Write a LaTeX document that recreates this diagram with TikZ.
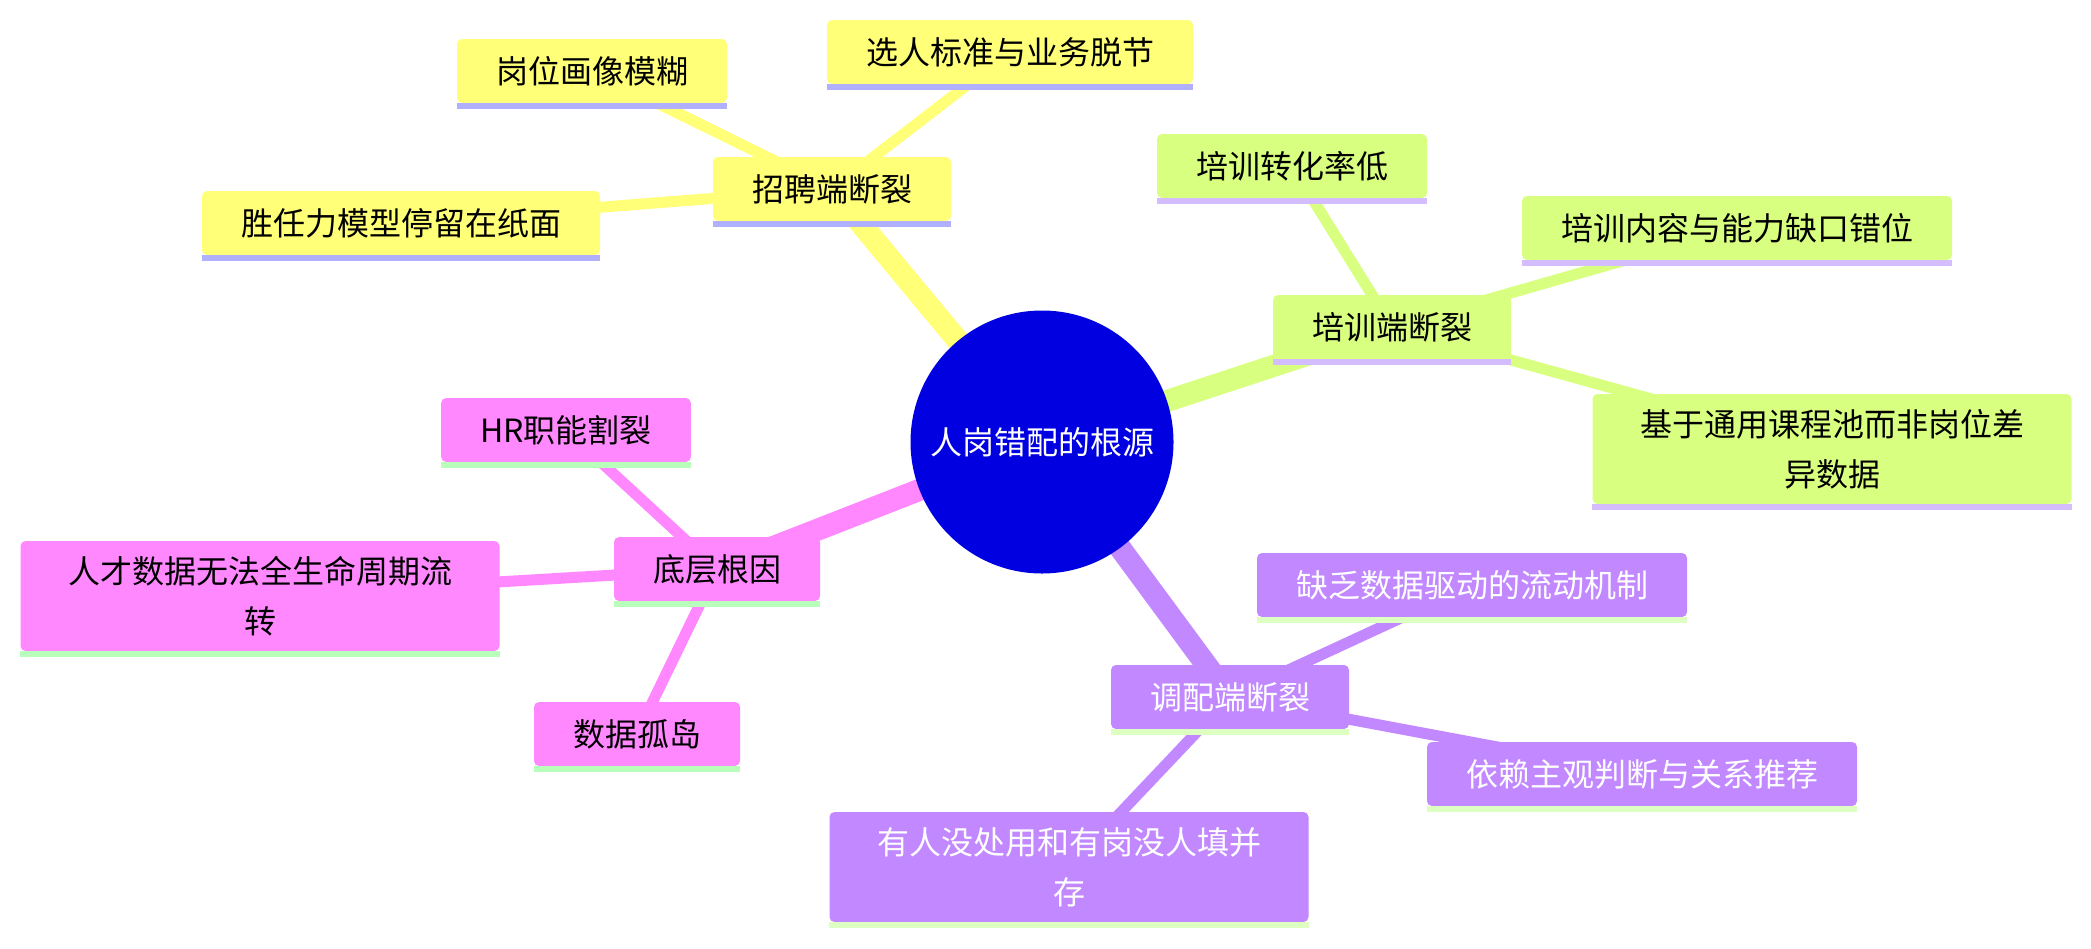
\documentclass[tikz,border=0pt]{standalone}
\usepackage{fontspec}
\setmainfont{Noto Sans CJK SC}
\usetikzlibrary{backgrounds}
\definecolor{rootblue}{HTML}{0000E0}
\definecolor{zpfill}{HTML}{FFFF78}
\definecolor{zpline}{HTML}{B0B0FF}
\definecolor{pxfill}{HTML}{D9FF80}
\definecolor{pxline}{HTML}{D3BDFF}
\definecolor{tpfill}{HTML}{C288FF}
\definecolor{tpline}{HTML}{DDFFC2}
\definecolor{dcfill}{HTML}{FF88FF}
\definecolor{dcline}{HTML}{B8FFBC}
\tikzset{
  mapbox/.style={rectangle, rounded corners=2.5pt, inner xsep=19.5pt, inner ysep=0pt,
    minimum height=32pt, align=center, font=\fontsize{16pt}{25pt}\selectfont},
  widebox/.style={mapbox, minimum width=239.5pt, minimum height=55pt},
  rootnode/.style={circle, fill=rootblue, text=white, minimum size=131.5pt, inner sep=0pt,
    font=\fontsize{16pt}{25pt}\selectfont},
  rootedge/.style={line width=11pt},
  leafedge/.style={line width=5.5pt},
  boxrule/.style={line width=3pt}
}
\begin{document}
\begin{tikzpicture}[x=0.5pt, y=-0.5pt]
\useasboundingbox (0,0) rectangle (2091,948);
\node[rootnode] (root) at (1042,442) {人岗错配的根源};
\node[mapbox, fill=zpfill] (zp) at (832,189) {招聘端断裂};
\node[mapbox, fill=zpfill] (gw) at (592,71) {岗位画像模糊};
\node[mapbox, fill=zpfill] (xr) at (1010,52) {选人标准与业务脱节};
\node[mapbox, fill=zpfill] (sr) at (401,223) {胜任力模型停留在纸面};
\node[mapbox, fill=pxfill] (px) at (1392,327) {培训端断裂};
\node[mapbox, fill=pxfill] (zh) at (1292,166) {培训转化率低};
\node[mapbox, fill=pxfill] (nr) at (1737,228) {培训内容与能力缺口错位};
\node[widebox, fill=pxfill] (jy) at (1832,449) {基于通用课程池而非岗位差\\异数据};
\node[mapbox, fill=tpfill, text=white] (tp) at (1230,697) {调配端断裂};
\node[mapbox, fill=tpfill, text=white] (qf) at (1472,585) {缺乏数据驱动的流动机制};
\node[mapbox, fill=tpfill, text=white] (yl) at (1642,774) {依赖主观判断与关系推荐};
\node[widebox, fill=tpfill, text=white] (yr) at (1069,867) {有人没处用和有岗没人填并\\存};
\node[mapbox, fill=dcfill] (dc) at (717,569) {底层根因};
\node[mapbox, fill=dcfill] (hr) at (566,430) {HR职能割裂};
\node[widebox, fill=dcfill] (rc) at (260,596) {人才数据无法全生命周期流\\转};
\node[mapbox, fill=dcfill] (gd) at (637,734) {数据孤岛};
\foreach \n/\c in {zp/zpline, gw/zpline, xr/zpline, sr/zpline,
                   px/pxline, zh/pxline, nr/pxline, jy/pxline,
                   tp/tpline, qf/tpline, yl/tpline, yr/tpline,
                   dc/dcline, hr/dcline, rc/dcline, gd/dcline}
  \draw[boxrule, \c] ([yshift=-1.5pt]\n.south west) -- ([yshift=-1.5pt]\n.south east);
\begin{scope}[on background layer]
\fill[white] (0,0) rectangle (2091,948);
\draw[rootedge, zpfill] (root.center) -- (zp.center);
\draw[rootedge, pxfill] (root.center) -- (px.center);
\draw[rootedge, tpfill] (root.center) -- (tp.center);
\draw[rootedge, dcfill] (root.center) -- (dc.center);
\foreach \a/\b in {zp/gw, zp/xr, zp/sr}
  \draw[leafedge, zpfill] (\a.center) -- (\b.center);
\foreach \a/\b in {px/zh, px/nr, px/jy}
  \draw[leafedge, pxfill] (\a.center) -- (\b.center);
\foreach \a/\b in {tp/qf, tp/yl, tp/yr}
  \draw[leafedge, tpfill] (\a.center) -- (\b.center);
\foreach \a/\b in {dc/hr, dc/rc, dc/gd}
  \draw[leafedge, dcfill] (\a.center) -- (\b.center);
\end{scope}
\end{tikzpicture}
\end{document}
